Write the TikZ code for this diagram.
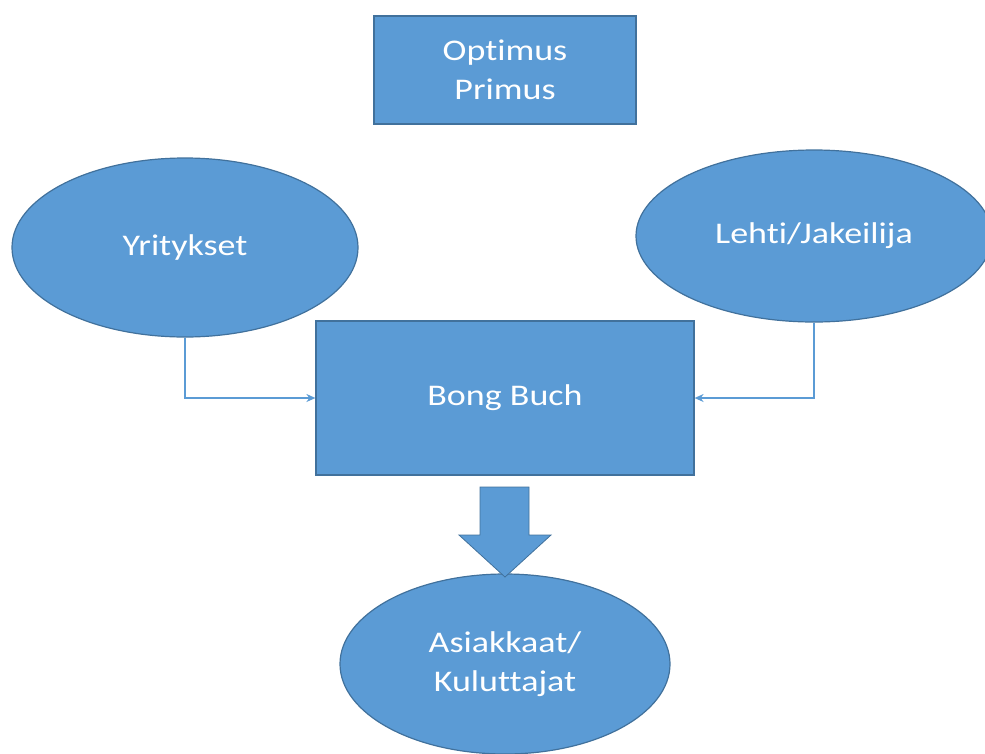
\documentclass[tikz,border=0pt]{standalone}
\usepackage{fontspec}
\setmainfont{Carlito}[FakeStretch=1.2,Ligatures=NoCommon]
\usetikzlibrary{shapes.geometric,arrows.meta}
\definecolor{officeblue}{HTML}{5B9BD5}
\definecolor{officeedge}{HTML}{41719C}
\tikzset{
  boxnode/.style={rectangle, draw=officeedge, line width=1.2pt, fill=officeblue, text=white, inner sep=0pt, align=center, font=\fontsize{30}{39}\selectfont},
  ovalnode/.style={ellipse, draw=officeedge, line width=1.2pt, fill=officeblue, text=white, inner sep=0pt, align=center, font=\fontsize{30}{39}\selectfont},
  link/.style={draw=officeblue, line width=1.5pt, -{Stealth[length=9pt,width=8pt]}},
  blockarrow/.style={fill=officeblue, draw=officeedge, line width=0.8pt, line join=miter}
}
\begin{document}
\begin{tikzpicture}[x=1pt,y=-1pt]
\useasboundingbox (0,0) rectangle (985,753);
\node[boxnode, minimum width=262pt, minimum height=108pt] (opt) at (505,70) {Optimus\\Primus};
\node[ovalnode, minimum width=346pt, minimum height=179pt] (yri) at (185,247.5) {Yritykset};
\node[ovalnode, minimum width=356pt, minimum height=172pt] (leh) at (814,236) {Lehti/Jakeilija};
\node[boxnode, minimum width=378pt, minimum height=154pt] (bong) at (505,398) {Bong Buch};
\node[ovalnode, minimum width=330pt, minimum height=180pt] (asi) at (505,664) {Asiakkaat/\\Kuluttajat};
\draw[link] (yri.south) |- (bong.west);
\draw[link] (leh.south) |- (bong.east);
\draw[blockarrow] (480,487) -- (529,487) -- (529,535) -- (551,535) -- (505,577) -- (459,535) -- (480,535) -- cycle;
\end{tikzpicture}
\end{document}
